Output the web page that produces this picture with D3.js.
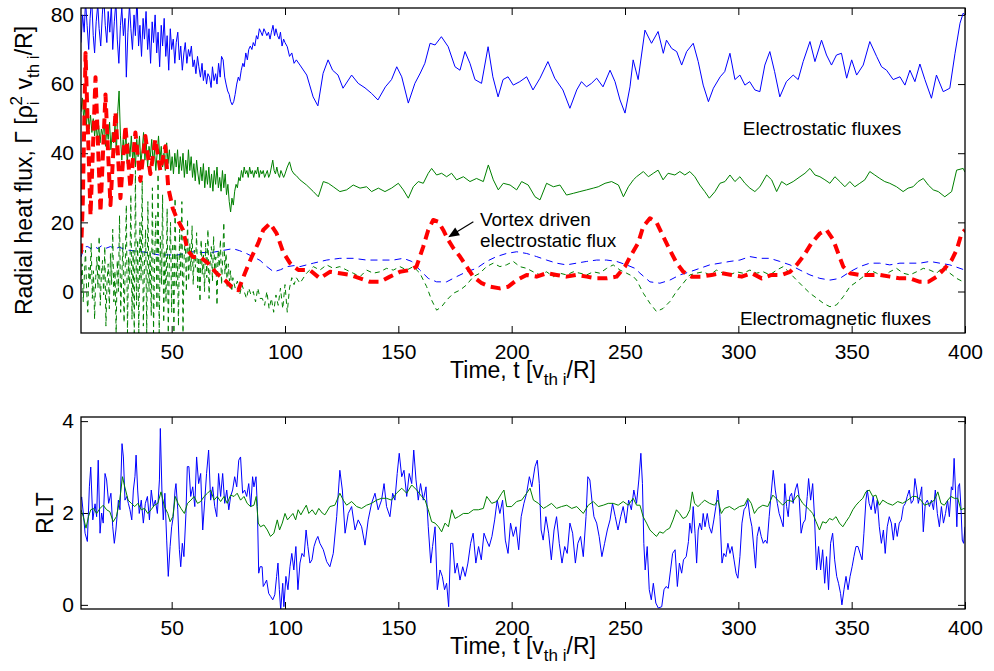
<!DOCTYPE html>
<html>
<head>
<meta charset="utf-8">
<script src="https://cdn.jsdelivr.net/npm/d3@7"></script>
<style>
body { margin: 0; background: #fff; }
text { font-family: "Liberation Sans", Arial, sans-serif; fill: #000; }
</style>
</head>
<body>
<svg id="chart" width="994" height="671"></svg>
<script>
// ---- data: [time, value] ----
const xTicks = [50, 100, 150, 200, 250, 300, 350, 400];
const fluxTicks = [0, 20, 40, 60, 80];
const rltTicks = [0, 2, 4];

// electrostatic flux, blue solid (top)
const esBlue = [[10,72],[10.7,80],[11.4,75],[12,84],[12.7,77],[13.4,70],[14,79],[14.7,85],[15.4,74],[16,69],[16.7,78],[17.4,83],[18,76],[18.7,71],[19.4,80],[20,86],[20.7,77],[21.4,72],[22,81],[22.7,75],[23.4,83],[24,70],[24.7,78],[25.4,84],[26,73],[26.7,66],[27.4,77],[28,82],[28.7,74],[29.4,79],[30,62],[30.7,75],[31.4,83],[32,76],[32.7,70],[33.4,80],[34,74],[34.7,85],[35.4,71],[36,77],[36.7,68],[37.4,79],[38,73],[38.7,81],[39.4,70],[40,76],[40.7,66],[41.4,78],[42,72],[42.7,80],[43.4,69],[44,75],[44.7,65],[45.4,77],[46,71],[46.7,79],[47.4,68],[48,74],[48.7,64],[49.4,76],[50,70],[50.7,73],[51.4,66],[52,72],[52.7,75],[53.4,67],[54,71],[54.7,64],[55.4,69],[56,72],[56.7,66],[57.4,70],[58,68],[58.7,71],[59.4,65],[60,67],[60.7,63],[61.4,68],[62,65],[62.7,62],[63.4,66],[64,61],[64.7,64],[65.4,60],[66,63],[66.7,62],[67.4,59],[68,65],[68.7,61],[69.4,63],[70,60],[70.7,66],[71.4,62],[72,68],[72.7,67],[73.4,62],[74,60],[74.7,58],[75.4,57],[76,55],[76.7,54],[77.4,55],[78,57],[78.7,60],[79.4,62],[80,61],[80.7,64],[81.4,66],[82,65],[82.7,69],[83.4,67],[84,70],[84.7,71],[85.4,70],[86,72],[86.7,71],[87.4,74],[88,73],[88.7,76],[89.4,75],[90,74],[90.7,76],[91.4,75],[92,74],[92.7,75],[93.4,73],[94,75],[94.7,77],[95.4,74],[96,76],[96.7,74],[97.4,73],[98,75],[98.7,71],[99.4,73],[100,72],[101,70.8],[102,68],[103,69],[104,66],[105,67],[106.6,65.5],[109.6,62.6],[112.4,56.3],[114.5,53.7],[116.8,63.1],[119,67],[121,64],[123.4,62.6],[125.6,58.8],[129.4,62.6],[132.3,60.2],[135.3,58.9],[138.2,57.3],[141,55.4],[144.3,59.2],[147,61.3],[149.3,65],[151.5,62.1],[154.4,54.5],[157.3,60.2],[159.7,63.2],[161.7,66],[164,71.8],[166.2,71.3],[169,73.7],[172,70.8],[175,65],[177.2,64],[179.4,69.4],[181.6,66],[183.8,61.3],[186.7,60.2],[189.6,70.8],[191.7,62.1],[194,56.3],[196.2,61.3],[198.4,62.1],[200.7,59.7],[203.6,60.7],[206.6,62.1],[209.4,58.3],[212.5,61.7],[216,66.5],[219,61.7],[222.6,58.3],[225.7,53],[228.7,58.3],[230.8,60.7],[233,59.2],[235.2,60.2],[237.5,61.7],[240.3,59.2],[243.4,64],[245.6,60.7],[247.8,55.4],[250,51.6],[252.2,59.2],[253.6,67],[255.8,61.3],[258.8,75.6],[261.7,71.8],[264.6,75.2],[266.9,68.9],[268.3,72.7],[270.6,70.3],[272.8,69.4],[275,65.5],[277.2,69.4],[280.1,71.8],[282.3,66.5],[284.5,59.7],[286.8,54.9],[289,58.8],[292,62.1],[294,63.6],[296.3,68.9],[298.5,61.3],[300.7,62.6],[302.9,59.7],[305,60.7],[307.3,58.3],[309.5,57.8],[311.7,65.5],[313.9,69.4],[316,63.6],[318.3,56.3],[321.2,60.7],[324.2,62.6],[326.4,61.3],[328.6,66.5],[331.6,72.3],[333.8,66.5],[336.7,72.7],[338.9,68.4],[341.1,65.5],[343.3,68.4],[345.5,68.9],[347.8,61.7],[350,67],[352.2,62.6],[355.1,65.5],[358,72.3],[361,68],[363.2,65],[365.4,64],[368.3,61.3],[371.3,62.1],[373.5,59.7],[375.7,64],[377.9,60.7],[380.1,65.8],[382.3,61.3],[385.2,55.9],[387.4,62.6],[390.4,57.8],[393.3,58.8],[395.6,68.9],[397.8,77.6],[399.2,80.5],[400,80]];

// electrostatic flux, green solid (top)
const esGreen = [[10,52],[10.6,56],[11.2,50],[11.8,54],[12.4,48],[13,53],[13.6,47],[14.2,51],[14.8,46],[15.4,50],[16,45],[16.6,49],[17.2,44],[17.8,48],[18.4,43],[19,47],[19.6,45],[20.2,50],[20.8,42],[21.4,47],[22,44],[22.6,49],[23.2,41],[23.8,46],[24.4,43],[25,48],[25.6,40],[26.2,52],[26.8,58],[27.4,45],[28,38],[28.6,44],[29.2,40],[29.8,46],[30.4,37],[31,43],[31.6,39],[32.2,45],[32.8,38],[33.4,42],[34,36],[34.6,44],[35.2,39],[35.8,45],[36.4,37],[37,41],[37.6,46],[38.2,38],[38.8,43],[39.4,36],[40,42],[40.6,39],[41.2,44],[41.8,37],[42.4,41],[43,35],[43.6,40],[44.2,45],[44.8,38],[45.4,42],[46,36],[46.6,40],[47.2,35],[47.8,43],[48.4,37],[49,41],[49.6,35],[50.2,39],[50.8,34],[51.4,40],[52,36],[52.6,41],[53.2,34],[53.8,39],[54.4,35],[55,40],[55.6,33],[56.2,38],[56.8,34],[57.4,41],[58,35],[58.6,39],[59.2,33],[59.8,37],[60.4,32],[61,38],[61.6,34],[62.2,31],[62.8,36],[63.4,32],[64,37],[64.6,30],[65.2,35],[65.8,31],[66.4,36],[67,30],[67.6,34],[68.2,29],[68.8,35],[69.4,31],[70,36],[70.6,30],[71.2,33],[71.8,29],[72.4,35],[73,30],[73.6,34],[74.2,28],[74.8,31],[75.4,26],[76,23],[76.6,27],[77.2,25],[77.8,29],[78.4,31],[79,30],[79.6,33],[80.2,32],[80.8,35],[81.4,33],[82,36],[82.6,34],[83.2,35],[83.8,33],[84.4,36],[85,34],[85.6,35],[86.2,33],[86.8,35],[87.4,34],[88,36],[88.6,33],[89.2,35],[89.8,34],[90.4,35],[91,33],[91.6,34],[92.2,35],[92.8,33],[93.4,34],[94,36],[94.6,38],[95.2,35],[95.8,34],[96.4,36],[97,34],[97.6,33],[98.2,35],[98.8,34],[99.4,33],[100,34],[101,36],[102,37.5],[103,35],[104,34],[105,33.5],[106.6,32.3],[109.5,30.8],[112.5,28.9],[114.7,27.4],[116.9,31.8],[119.1,31.3],[121.3,30.3],[124.2,28.9],[127.2,29.4],[130.1,30.8],[133.1,29.9],[136,30.3],[138.2,28.9],[141.2,29.9],[144.1,28.9],[147,29.9],[150,31.3],[152.2,29.4],[154.4,27],[156.6,30.3],[158.8,31.8],[161,31.3],[163.2,34.2],[164.7,35.6],[166.9,33.7],[169.1,34.2],[171.3,33.2],[173.5,34.2],[175.7,32.3],[178.7,33.2],[181.6,31.8],[184.5,32.7],[187.5,31.8],[189.7,36.6],[191.9,32.3],[194.1,29.4],[196.3,31.3],[199.3,30.8],[202.2,29.4],[204.4,31.8],[207.3,30.8],[210.3,27.4],[212.5,26.5],[215.4,31.3],[218.4,30.3],[221.3,30.8],[224.2,27.9],[227.2,28.4],[230.1,28.9],[233.1,29.4],[236,29.9],[238.2,30.3],[241.2,31.3],[244.1,31.8],[247.1,30.8],[249.3,27.4],[251.5,30.3],[253.7,32.3],[255.1,33.2],[258.1,34.7],[260.3,33.2],[262.5,34.2],[264.6,35.1],[266.8,32.3],[269,34.2],[272,33.7],[274.2,34.7],[276.4,33.7],[278.6,34.7],[280.8,33.2],[283,30.8],[285.2,28.9],[287.2,27],[289.7,28.9],[291.9,31.3],[294.1,31.8],[296.3,33.7],[298.5,31.8],[300.7,33.2],[302.9,31.3],[305.1,29.9],[307.3,28.9],[309.5,30.3],[312.5,33.7],[314.7,32.3],[316.9,28.9],[319.1,31.8],[321.3,30.8],[324.2,31.8],[327.2,33.2],[329.4,34.2],[331.6,35.6],[333.8,33.7],[336,33.2],[338.2,32.3],[340.4,31.3],[342.6,33.2],[344.8,31.8],[347,30.3],[349.2,31.8],[351.4,30.3],[353.6,31.3],[355.8,32.3],[358,34.7],[360.2,33.7],[362.4,32.7],[364.6,31.8],[366.8,31.3],[369.8,30.3],[372.7,28.9],[374.9,29.9],[377.1,30.3],[379.3,31.8],[381.6,32.7],[383.8,30.8],[386,29.4],[388.2,28.9],[391.1,27.4],[394.1,28.9],[396.3,35.1],[399.2,35.6],[400,34.5]];

// vortex driven electrostatic flux, red thick dashed (top)
const vortexRed = [[10,11],[10.8,26],[12,69],[14.2,22],[16.4,62],[18.6,23],[20.8,57],[23,25],[25.2,52],[27.4,27],[29.6,48],[31.8,30],[34,46],[36.2,32],[38.4,45],[40.6,34],[42.8,44],[45,35],[47.2,42],[48.5,30],[50.5,24],[52,21.6],[55,17.8],[57,12],[59.4,10],[62.5,10],[66,8.2],[69.8,5.3],[73.5,3.3],[76.5,1.3],[79.4,0.4],[82.3,5.3],[85.3,10],[88.2,14],[90.4,17.8],[93.4,19.7],[96.3,16.8],[99.2,11.4],[102.2,8.2],[105.9,6.2],[111,6.2],[115.4,3.8],[119.8,5.7],[124.2,5.3],[128.7,4.8],[133.1,3.8],[137.5,2.8],[141.9,2.8],[146.3,4.3],[150.7,5.7],[155.1,6.2],[158,7.2],[161,13],[163.2,17.8],[165.4,20.7],[167.6,20.2],[169.8,17.8],[172,14.9],[174.3,12.5],[177.2,10.1],[180.1,7.2],[183.1,4.3],[186.8,2.4],[190.4,1.4],[194.8,0.9],[198.5,1.4],[202.2,3.3],[206.6,4.8],[211,4.3],[215.4,5.3],[219.8,4.8],[224.2,4.3],[228.6,4.8],[233.1,4.3],[237.5,3.8],[241.9,3.8],[246.3,4.3],[250,7.2],[252.2,10],[255.8,14],[258,18.7],[261,21.2],[263.9,20],[266.9,15.9],[269.8,12],[272.8,8.2],[275.7,5.7],[279.4,4.3],[283.8,4.3],[288.2,4.8],[292.6,5.3],[297.1,4.8],[301.5,4.3],[305.9,5.3],[310.3,3.8],[314.7,4.8],[319.1,4.8],[322.8,5.7],[325.7,7.7],[328.6,10.1],[332.3,14],[336,16.8],[338.9,17.8],[341.9,14.9],[344.1,11],[346.3,7.2],[349.2,5.3],[353.6,4.8],[358.1,4.8],[362.5,4.8],[366.9,4.3],[371.3,3.8],[375.7,3.8],[380.1,2.8],[383.8,2.8],[387.5,4.3],[391.1,6.7],[394.1,9.1],[396.3,12],[398.5,16.8],[400,17.8]];

// electromagnetic flux, blue thin dashed (top)
const emBlue = [[10,10],[11.5,12.9],[13,13],[14.5,12.3],[16,13],[17.5,12.4],[19,13.2],[21,12.5],[23,13],[25,12.4],[27,12.8],[30,12],[33,11.8],[37,11.5],[41,11],[45,10.5],[49,10.6],[52,10.5],[56,11],[59,11.5],[63,11.3],[67,11.2],[72,11.8],[77,12.4],[80,11.8],[83,11],[86,10],[89,9],[92,7.2],[95,5.7],[98,6.3],[101,7.2],[104,7.5],[106.6,7.2],[112.5,8.2],[118.4,9.1],[124.2,9.6],[130.1,9.6],[136,9.1],[141.9,9.1],[147.8,9.1],[152.2,9.6],[155.9,8.7],[159.5,6.2],[163.2,3.8],[166.9,2.8],[171.3,2.8],[175.7,4.3],[180.1,5.7],[184.5,6.7],[188.9,8.7],[193.3,10.1],[197.7,11],[202.2,11.5],[206.6,11],[211,10.1],[215.4,9.1],[219.8,8.2],[224.2,7.7],[228.6,8.2],[233.1,8.7],[237.5,9.1],[241.9,9.1],[246.3,8.7],[250.7,7.7],[254.4,6.7],[256.6,5.3],[261,2.8],[265.4,2.4],[269.8,3.3],[274.2,4.8],[278.6,5.7],[283,6.7],[287.4,7.7],[291.9,8.2],[296.3,8.7],[300.7,9.1],[305.1,10.1],[309.5,9.6],[313.9,9.6],[318.3,8.7],[322.8,7.7],[327.2,6.2],[331.6,4.8],[336,3.8],[340.4,3.3],[344.8,3.8],[349.2,5.7],[353.6,7.2],[358,8.2],[362.4,8.2],[366.8,7.7],[371.3,8.2],[375.7,8.2],[380.1,8.2],[384.5,8.7],[388.9,8.2],[393.3,7.7],[397.8,6.7],[400,6.2]];

// electromagnetic flux, green thin dashed (top)
const emGreen = [[10,2],[10.5,8],[11,-3],[11.5,5],[12,12],[12.5,0],[13,-6],[13.5,7],[14,3],[14.5,14],[15,-2],[15.5,6],[16,-8],[16.5,4],[17,10],[17.5,1],[18,16],[18.5,-4],[19,5],[19.5,9],[20,-1],[20.5,13],[21,-10],[21.5,3],[22,8],[22.5,-5],[23,11],[23.5,2],[24,18],[24.5,-3],[25,6],[25.5,-12],[26,9],[26.5,0],[27,22],[27.5,-6],[28,4],[28.5,14],[29,-9],[29.5,7],[30,25],[30.5,-12],[31,10],[31.5,2],[32,28],[32.5,-8],[33,12],[33.5,-12],[34,35],[34.5,-4],[35,15],[35.5,-12],[36,20],[36.5,3],[37,32],[37.5,-10],[38,8],[38.5,18],[39,-12],[39.5,26],[40,0],[40.5,12],[41,-7],[41.5,30],[42,-12],[42.5,10],[43,22],[43.5,-5],[44,34],[44.5,-12],[45,16],[45.5,2],[46,28],[46.5,-9],[47,12],[47.5,-3],[48,24],[48.5,-12],[49,9],[49.5,20],[50,-6],[50.5,14],[51,-12],[51.5,27],[52,1],[52.5,11],[53,-10],[53.5,18],[54,4],[54.5,26],[55,-12],[55.5,10],[56,16],[56.5,0],[57,21],[57.5,3],[58,14],[58.5,6],[59,19],[59.5,2],[60,12],[60.5,7],[61,17],[61.5,1],[62,10],[62.5,-3],[63,15],[63.5,5],[64,11],[64.5,0],[65,14],[65.5,4],[66,18],[66.5,-2],[67,9],[67.5,13],[68,3],[68.5,16],[69,6],[69.5,10],[70,-4],[70.5,12],[71,7],[71.5,15],[72,2],[72.5,9],[73,20],[73.5,5],[74,11],[74.5,1],[75,8],[75.5,3],[76,6],[76.5,0],[77,4],[78,1],[79,3],[80,-1],[81,2],[82,0],[83,-2],[84,1],[85,-1],[86,0],[87,-3],[88,1],[89,-2],[90,-2],[91,-4],[92,0],[93,-5],[94,-2],[95,-6],[96,-1],[97,-4],[98,1],[99,-5],[100,2],[101,-6],[102,1],[103,4],[104,2],[105,4],[106.6,2.4],[109.5,5.3],[112.5,7.2],[115.4,6.2],[118.4,7.7],[121.3,6.7],[124.2,7.2],[127.2,6.2],[130.1,5.3],[133.1,4.3],[136,6.2],[138.9,5.3],[141.9,5.7],[144.8,6.7],[147.8,6.2],[150.7,7.2],[153.7,6.2],[156.6,7.2],[159.5,5.3],[162.5,1.4],[164.7,-2.5],[166.9,-5.4],[169.1,-4.4],[171.3,-2.5],[174.3,-0.5],[177.2,0.4],[180.1,1.9],[183.1,4.3],[186,5.3],[188.9,7.2],[191.9,8.2],[194.8,7.2],[197.7,7.7],[200.7,8.7],[203.6,7.2],[206.6,6.7],[209.5,5.7],[212.5,4.8],[215.4,5.7],[218.4,4.3],[221.3,5.3],[224.2,4.8],[227.2,5.7],[230.1,5.3],[233.1,4.8],[236,5.7],[238.9,5.3],[241.9,6.7],[244.8,7.7],[247.8,6.2],[250.7,5.3],[253.7,4.3],[255.1,3.3],[258.1,-0.5],[261,-3.4],[263.9,-5.8],[266.8,-4.9],[269.8,-2.9],[272.7,0],[275.7,2.4],[278.6,4.8],[281.5,5.3],[284.5,5.7],[287.4,4.8],[290.4,6.2],[293.3,5.3],[296.3,4.8],[299.2,5.7],[302.1,5.3],[305.1,6.2],[308,5.3],[311,5.7],[313.9,4.8],[316.9,6.2],[319.8,7.2],[322.8,5.3],[325.7,3.3],[328.6,1.4],[331.6,-0.5],[334.5,-1.9],[337.5,-3.4],[340.4,-4.4],[343.3,-3.9],[346.3,-1.5],[349.2,1.4],[352.2,2.8],[355.1,4.3],[358,6.2],[361,5.3],[363.9,4.3],[366.8,5.7],[369.8,6.7],[372.7,5.3],[375.7,4.8],[378.6,5.7],[381.6,6.7],[384.5,6.2],[387.5,5.3],[390.4,7.2],[393.3,5.3],[396.3,3.8],[399.2,2.8],[400,2.6]];

// RLT, blue (bottom)
const rltBlue = [[10,2.28],[10.3,2.35],[11,2.0],[11.8,1.56],[12.8,1.38],[13.7,2.57],[14.3,3.0],[15.2,1.85],[16.2,2.2],[16.9,1.92],[17.6,3.15],[18.4,1.56],[19.1,2.0],[19.8,1.78],[20.6,2.86],[21.3,2.72],[22.2,2.21],[23.2,2.43],[24,1.7],[24.7,1.34],[25.4,1.63],[26.5,2.28],[27.2,2.07],[28.1,3.51],[28.7,3.22],[29.4,2.28],[30.2,2.36],[30.9,2.21],[31.6,2.07],[32.4,1.85],[33.1,2.5],[33.8,2.79],[34.3,3.26],[35,2.5],[35.7,1.99],[36.6,2.28],[37.5,1.78],[38.4,2.21],[39.3,2.36],[40.2,1.85],[41,2.5],[41.9,2.14],[42.8,2.28],[43.7,1.99],[44.6,2.72],[45,3.84],[45.7,2.5],[46.3,1.85],[47,2.43],[47.8,1.41],[48.5,0.62],[49.3,1.27],[50,1.7],[50.7,1.92],[51.5,2.5],[51.9,2.64],[52.7,2.07],[53.4,1.2],[54,0.83],[54.7,1.34],[55.4,1.05],[56.3,1.99],[56.9,3.01],[57.6,3.01],[58.4,2.36],[59.3,2.57],[60.2,2.14],[61,3.22],[61.9,2.64],[62.8,2.86],[63.7,1.63],[64.6,2.28],[65.4,2.86],[66.3,3.37],[67.2,2.28],[68.1,2.57],[69,2.14],[69.9,1.92],[70.7,2.86],[71.6,2.36],[72.5,2.86],[73.4,2.21],[74.3,2.5],[75.2,2.07],[76,2.36],[76.9,2.5],[77.8,2.79],[78.7,2.57],[79.6,3.15],[80.4,3.22],[81.3,2.43],[82.2,2.5],[83.1,2.36],[84,2.64],[84.9,2.14],[85.7,2.79],[86.3,2.57],[87.2,2.79],[87.8,2.14],[88.4,0.69],[89,0.83],[89.9,0.83],[90.4,0.4],[91.2,0.47],[91.9,0.54],[92.8,0.25],[93.7,0.18],[94.6,0.11],[95.5,0.22],[96.3,0.62],[96.9,0.91],[97.5,0.33],[98.1,-0.11],[99,0.47],[99.5,-0.04],[100.4,0.62],[101.3,0.33],[102.2,0.83],[103,1.12],[103.9,0.76],[104.8,1.27],[105.7,0.33],[106.6,0.91],[107.5,1.12],[108.4,1.05],[109.3,1.63],[110.1,1.27],[111,0.91],[111.9,0.98],[112.8,1.27],[113.7,1.41],[114.5,1.49],[115.4,1.34],[116.9,1.2],[118.4,0.94],[119.8,0.83],[121.3,1.12],[122.8,1.92],[124.2,2.93],[125.3,2.5],[126.5,1.56],[127.9,1.99],[129.4,2.14],[130.9,1.63],[132.3,1.85],[133.8,1.7],[135.3,1.3],[136.7,1.85],[138.2,2.21],[139.7,2.43],[141.1,2.07],[142.6,2.28],[143.7,2.64],[144.8,2.14],[146.3,1.92],[147.5,2.43],[148.5,2.28],[149.5,2.86],[150.4,3.3],[151.5,2.79],[152.5,2.93],[153.7,2.36],[154.8,2.86],[155.9,2.64],[156.8,3.37],[157.8,2.72],[158.8,2.28],[159.8,2.64],[161,2.28],[162.2,2.57],[163.2,1.7],[164.3,0.91],[165.1,1.27],[166.2,1.7],[167.2,0.33],[168.4,0.76],[169.4,0.62],[170.4,0.33],[171.3,0.47],[172.2,-0.04],[173.1,1.34],[174,1.34],[175,0.69],[176,0.91],[177.2,0.54],[178.4,0.83],[179.5,0.62],[180.7,0.91],[181.9,1.34],[183,1.56],[184.2,0.91],[185.4,1.27],[186.6,0.98],[187.8,1.56],[188.9,1.41],[190.1,1.27],[191.3,1.49],[192.5,1.85],[193.6,2.28],[194.8,1.99],[196,2.28],[197.2,1.41],[198.4,1.12],[199.5,1.78],[200.7,1.49],[201.9,1.7],[203.1,1.2],[204.2,1.92],[205.4,2.21],[206.6,2.43],[207.8,2.79],[208.9,2.57],[210.3,3.01],[211.3,3.15],[212.2,2.64],[213,1.63],[213.9,1.41],[215.1,1.92],[216.3,1.56],[217.5,0.98],[218.7,1.63],[219.8,1.92],[221,1.34],[222.2,0.91],[223.4,1.27],[224.5,1.12],[225.7,1.78],[226.9,1.56],[228.1,0.91],[229.2,1.34],[230.4,1.49],[231.6,1.05],[232.8,1.92],[233.6,2.79],[234.5,2.72],[235.4,2.28],[236.3,1.92],[237.5,1.78],[238.6,1.49],[239.8,1.05],[241,1.34],[242.2,1.63],[243.4,1.85],[244.5,2.21],[245.7,1.92],[246.9,1.63],[248.1,1.92],[249.2,2.14],[250.4,1.78],[251.6,2.28],[252.8,2.07],[253.9,2.5],[255.1,2.21],[256.1,2.72],[257,3.3],[257.7,2.64],[258.3,1.34],[258.9,0.76],[259.8,1.27],[260.7,0.33],[261.6,0.11],[262.5,0.47],[263.6,0.04],[264.7,-0.07],[266.2,-0.04],[267.2,0.33],[268.1,0.4],[269.1,0.36],[270.1,0.76],[271,1.12],[272.1,1.2],[273.1,0.4],[274,0.91],[275,0.69],[275.8,0.98],[277,1.05],[278,1.38],[278.6,1.78],[279.4,1.56],[280.1,2.14],[280.9,1.56],[281.6,0.91],[282.3,1.63],[283,1.78],[283.8,1.63],[284.5,1.99],[285.3,1.7],[286.3,1.99],[287.2,1.7],[288.2,1.56],[289.2,1.85],[290.1,2.14],[291,2.5],[291.9,1.92],[292.8,0.91],[293.6,1.12],[294.5,1.05],[295.4,1.34],[296.3,1.12],[297.2,1.27],[298.1,0.98],[299,0.69],[299.8,0.58],[300.7,1.05],[301.6,1.78],[302.5,2.07],[303.4,2.14],[304.2,2.28],[305.1,1.92],[306,1.7],[306.9,1.2],[307.6,0.8],[308.3,1.49],[309.2,1.7],[310.1,1.49],[311,1.34],[311.9,1.41],[312.7,1.34],[313.6,1.92],[314.5,2.43],[315.4,2.93],[316.3,2.5],[317.2,2.21],[318,1.99],[318.9,1.85],[319.8,1.7],[320.5,2.64],[321.3,2.14],[322,1.92],[322.7,2.36],[323.5,2.43],[324.2,2.21],[325.1,2.5],[326,2.64],[326.8,2.36],[327.7,1.56],[328.6,1.78],[329.5,1.85],[330.4,2.36],[331,2.75],[331.9,2.28],[332.8,2.64],[333.6,1.92],[334.5,0.76],[335.4,1.27],[336.3,0.76],[337.2,1.2],[338.1,0.47],[338.9,1.05],[339.8,0.33],[340.7,1.34],[341.6,1.56],[342.5,0.98],[343.4,0.62],[344.2,0.47],[345.1,0.25],[345.7,0],[346.6,0.33],[347.5,0.62],[348.4,0.33],[349.3,0.62],[350.2,0.83],[351,1.05],[351.9,1.27],[352.8,1.27],[353.7,1.12],[354.6,0.98],[355.4,1.56],[356.3,2.28],[356.9,2.5],[357.7,2.21],[358.6,2.07],[359.5,2.36],[360.4,1.99],[361.3,2.28],[362.2,1.7],[363.1,1.34],[364,1.63],[364.8,1.12],[365.7,1.7],[366.6,1.92],[367.5,1.78],[368.4,1.41],[369.2,1.78],[370.1,1.49],[371,1.78],[371.9,1.85],[372.8,2.14],[373.7,2.21],[374.5,2.36],[375.4,2.5],[376.3,2.21],[377.2,2.28],[377.9,2.75],[378.7,2.5],[379.4,2.21],[380.1,2.36],[380.9,2.57],[381.6,1.59],[382.5,2.21],[383.4,2.28],[384.3,2.14],[385.2,2.28],[386.1,2.07],[386.9,2.5],[387.8,1.99],[388.7,1.7],[389.6,2.14],[390.5,1.78],[391.4,1.99],[392.3,2.28],[393.1,1.92],[394,2.57],[394.6,2.5],[395.2,3.19],[395.8,2.5],[396.4,1.7],[397,2.57],[397.6,2.64],[398.2,2.14],[398.8,1.41],[399.4,1.34],[400,1.7]];

// RLT, green (bottom)
const rltGreen = [[10,2.07],[11,1.92],[12.2,1.67],[13.3,1.92],[14.3,2.07],[15.5,2.1],[16.9,1.99],[18.4,2.1],[19.8,2.17],[21.3,2.07],[22.7,2.03],[24.2,1.81],[25.6,1.92],[27.1,2.28],[28.3,2.79],[29.3,2.57],[30.8,2.28],[32.2,2.21],[33.7,2.14],[35.1,2.21],[36.6,2.07],[38,2.1],[39.5,1.99],[40.9,2.07],[42.4,2.17],[43.9,2.21],[45.3,2.46],[46.8,2.14],[48.3,1.99],[49.3,1.81],[50.5,1.92],[51.6,2.36],[52.8,2.21],[54.1,2.1],[55.6,1.99],[57,2.21],[58.5,2.28],[59.9,2.36],[61.4,2.21],[62.8,2.25],[64.3,2.36],[65.8,2.43],[67.2,2.5],[68.7,2.28],[70.1,2.36],[71.6,2.25],[73.1,2.36],[74.5,2.21],[76,2.39],[77.5,2.36],[78.9,2.43],[80.4,2.28],[81.9,2.36],[83.3,2.21],[84.8,2.14],[86.3,2.17],[87.3,2.36],[88.2,1.78],[89.2,1.7],[90.7,1.74],[92.2,1.63],[93.6,1.49],[95.1,1.56],[96.6,1.85],[97.6,1.63],[98.8,1.78],[100,1.99],[101.1,1.85],[102.3,1.92],[103.5,1.99],[104.7,1.85],[105.8,2.07],[107,1.96],[108.2,2.07],[109.4,2.17],[110.5,1.99],[112,2.07],[113.5,1.96],[114.9,2.1],[116.4,2.0],[117.6,1.96],[119.8,2.14],[122,2.17],[124.2,2.43],[125.7,2.28],[127.2,2.17],[129.4,2.25],[131.6,2.14],[133.8,2.1],[136,2.17],[138.2,2.21],[140.4,2.28],[142.6,2.32],[144.8,2.32],[147,2.28],[149.2,2.43],[151.5,2.54],[153.7,2.43],[155.9,2.61],[158.1,2.5],[160.3,2.36],[161.8,2.28],[163.2,2.07],[164.7,1.81],[166.2,1.78],[167.7,1.7],[169.1,1.59],[170.6,1.78],[172.1,1.7],[173.6,2.07],[175,1.88],[176.5,1.92],[178.7,1.99],[180.9,1.99],[183.1,2.07],[185.3,2.07],[187.5,2.1],[189,2.36],[191.2,2.21],[193.4,2.25],[195.6,2.43],[196.6,2.5],[197.8,2.14],[200,2.14],[202.2,2.25],[204.4,2.28],[206.6,2.43],[208.1,2.54],[209.6,2.28],[211.8,2.21],[214,2.1],[215.4,2.14],[217.6,2.21],[219.8,2.1],[222,2.14],[224.3,2.17],[226.5,2.1],[228.7,2.14],[231.6,1.99],[233.8,2.17],[236,2.25],[238.2,2.14],[240.4,2.17],[242.6,2.21],[244.8,2.21],[247,2.17],[249.2,2.25],[251.4,2.17],[253.6,2.32],[255.1,2.17],[256.6,2.17],[258,1.92],[259.5,1.78],[261,1.63],[262.4,1.56],[263.9,1.49],[265.3,1.59],[266.8,1.56],[268.3,1.63],[269.7,1.67],[271.2,1.85],[272.7,2.07],[274.1,1.99],[275.6,1.88],[277.1,1.92],[278.6,2.07],[279.7,2.46],[280.7,2.21],[282.2,2.14],[283.7,2.21],[285.1,2.28],[287.3,2.21],[289.5,2.17],[291,2.28],[292.5,1.99],[293.9,2.1],[296.1,2.14],[298.3,2.07],[300.5,2.14],[302.7,2.17],[304.2,2.32],[305.7,2.21],[307.1,1.99],[308.6,2.1],[310.8,2.17],[313,2.14],[315.2,2.39],[317.4,2.28],[319.6,2.17],[321.8,2.28],[324,2.25],[326.2,2.39],[328.4,2.21],[329.9,2.14],[331.4,2.07],[332.8,1.99],[334.3,1.81],[335.8,1.63],[337.2,1.81],[338.7,1.78],[340.2,1.88],[341.6,1.85],[343.1,1.92],[344.6,1.78],[346.1,1.7],[347.5,1.81],[349,1.92],[350.5,2.07],[351.9,2.17],[353.4,2.25],[354.9,2.32],[356.3,2.46],[357.8,2.5],[359.3,2.36],[360.7,2.39],[362.2,2.17],[363.7,2.28],[365.9,2.21],[368.1,2.17],[370.3,2.25],[372.5,2.21],[374.7,2.28],[376.9,2.36],[378.4,2.36],[380.6,2.28],[382.1,2.17],[384.3,2.21],[386.5,2.28],[388,2.46],[389.4,2.21],[390.9,2.17],[392.4,2.28],[393.8,2.36],[395.3,2.32],[396.8,2.32],[398.2,2.07],[399.6,2.1],[400,2.08]];

// ---- chart ----
const svg = d3.select("#chart");
const x = d3.scaleLinear().domain([10, 400]).range([81, 965]);
const yFlux = d3.scaleLinear().domain([-12, 82]).range([333, 8]);
const yRlt = d3.scaleLinear().domain([-0.09, 4.09]).range([609, 417]);
const tick = 7;

function panel(y, yTicks, id) {
  const [yb, yt] = y.range();
  const [xl, xr] = x.range();
  svg.append("clipPath").attr("id", id).append("rect")
    .attr("x", xl).attr("y", yt).attr("width", xr - xl).attr("height", yb - yt);

  const gx = svg.append("g").attr("transform", `translate(0,${yb})`)
    .call(d3.axisBottom(x).tickValues(xTicks).tickSizeInner(-tick).tickSizeOuter(0).tickPadding(11));
  const gxt = svg.append("g").attr("transform", `translate(0,${yt})`)
    .call(d3.axisTop(x).tickValues(xTicks).tickSizeInner(-tick).tickSizeOuter(0).tickFormat(""));
  const gy = svg.append("g").attr("transform", `translate(${xl},0)`)
    .call(d3.axisLeft(y).tickValues(yTicks).tickFormat(d3.format("d"))
      .tickSizeInner(-tick).tickSizeOuter(0).tickPadding(7));
  const gyr = svg.append("g").attr("transform", `translate(${xr},0)`)
    .call(d3.axisRight(y).tickValues(yTicks).tickSizeInner(-tick).tickSizeOuter(0).tickFormat(""));
  [gx, gxt, gy, gyr].forEach(g => {
    g.select(".domain").remove();
    g.selectAll("line").attr("stroke", "#000").attr("stroke-width", 1);
    g.selectAll("text").attr("font-size", 21).attr("font-family", "Liberation Sans, Arial, sans-serif").attr("fill", "#000");
  });
  return svg.append("g").attr("clip-path", `url(#${id})`);
}

function drawLine(g, data, y, color, width, dash) {
  g.append("path").datum(data)
    .attr("fill", "none").attr("stroke", color).attr("stroke-width", width)
    .attr("stroke-dasharray", dash || null)
    .attr("stroke-linejoin", "round")
    .attr("d", d3.line().x(d => x(d[0])).y(d => y(d[1])));
}

function frameBox(y) {
  const [yb, yt] = y.range();
  svg.append("rect").attr("x", x.range()[0]).attr("y", yt)
    .attr("width", x.range()[1] - x.range()[0]).attr("height", yb - yt)
    .attr("fill", "none").attr("stroke", "#000").attr("stroke-width", 1.3);
}

// top panel
const topG = panel(yFlux, fluxTicks, "clipTop");
drawLine(topG, esBlue, yFlux, "#0000ff", 1);
drawLine(topG, esGreen, yFlux, "#008000", 1);
drawLine(topG, emBlue, yFlux, "#0000ff", 1, "7,5");
drawLine(topG, emGreen, yFlux, "#008000", 1, "5,4");
drawLine(topG, vortexRed, yFlux, "#ff0000", 4, "10,6");
frameBox(yFlux);

// bottom panel
const botG = panel(yRlt, rltTicks, "clipBot");
drawLine(botG, rltBlue, yRlt, "#0000ff", 1);
drawLine(botG, rltGreen, yRlt, "#008000", 1);
frameBox(yRlt);

// annotations (data coordinates)
const note = (t, v, s) => svg.append("text").attr("x", x(t)).attr("y", yFlux(v))
  .attr("font-size", 19).text(s);
note(302, 45.3, "Electrostatic fluxes");
note(300.7, -9.7, "Electromagnetic fluxes");
note(186, 18.9, "Vortex driven");
note(186, 12.9, "electrostatic flux");

// arrow towards the vortex peak
const ax0 = x(183.1), ay0 = yFlux(20.2), ax1 = x(172), ay1 = yFlux(15.7);
const ang = Math.atan2(ay1 - ay0, ax1 - ax0);
svg.append("line").attr("x1", ax0).attr("y1", ay0)
  .attr("x2", ax1 - 6 * Math.cos(ang)).attr("y2", ay1 - 6 * Math.sin(ang))
  .attr("stroke", "#000").attr("stroke-width", 1.2);
const ah = 11, aw = 4.5;
const bx = ax1 - ah * Math.cos(ang), by = ay1 - ah * Math.sin(ang);
svg.append("path")
  .attr("d", `M${ax1},${ay1}L${bx + aw * Math.sin(ang)},${by - aw * Math.cos(ang)}L${bx - aw * Math.sin(ang)},${by + aw * Math.cos(ang)}Z`)
  .attr("fill", "#000");

// axis labels
function xLabel(yBase) {
  const t = svg.append("text").attr("x", 523).attr("y", yBase)
    .attr("text-anchor", "middle").attr("font-size", 23);
  t.append("tspan").text("Time, t [v");
  t.append("tspan").attr("font-size", 17).attr("dy", 7).text("th i");
  t.append("tspan").attr("dy", -7).text("/R]");
}
xLabel(378);
xLabel(654);

const yl = svg.append("text").attr("transform", "translate(32,170.5) rotate(-90)")
  .attr("text-anchor", "middle").attr("font-size", 23);
yl.append("tspan").text("Radial heat flux, \u0393 [\u03c1");
yl.append("tspan").attr("font-size", 17).attr("dy", 7).text("i");
yl.append("tspan").attr("font-size", 17).attr("dy", -17).attr("dx", -4).text("2");
yl.append("tspan").attr("dy", 10).text(" v");
yl.append("tspan").attr("font-size", 17).attr("dy", 7).text("th i");
yl.append("tspan").attr("dy", -7).text("/R]");

svg.append("text").attr("transform", "translate(53,513) rotate(-90)")
  .attr("text-anchor", "middle").attr("font-size", 23).text("RLT");
</script>
</body>
</html>
